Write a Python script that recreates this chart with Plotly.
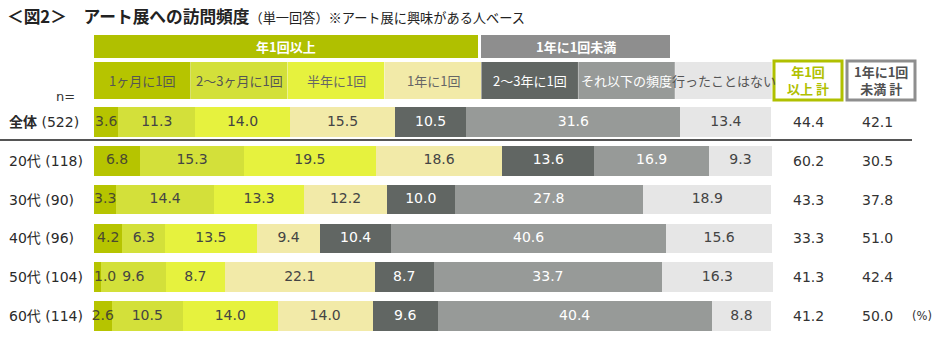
import numpy as np
import plotly.graph_objects as go

# ---------------- data ----------------
rows = ["全体", "20代", "30代", "40代", "50代", "60代"]
row_n = ["(522)", "(118)", "(90)", "(96)", "(104)", "(114)"]
categories = ["1ヶ月に1回", "2～3ヶ月に1回", "半年に1回", "1年に1回",
              "2～3年に1回", "それ以下の頻度", "行ったことはない"]
v_month = [3.6, 6.8, 3.3, 4.2, 1.0, 2.6]
v_2_3month = [11.3, 15.3, 14.4, 6.3, 9.6, 10.5]
v_halfyear = [14.0, 19.5, 13.3, 13.5, 8.7, 14.0]
v_year = [15.5, 18.6, 12.2, 9.4, 22.1, 14.0]
v_2_3year = [10.5, 13.6, 10.0, 10.4, 8.7, 9.6]
v_less = [31.6, 16.9, 27.8, 40.6, 33.7, 40.4]
v_never = [13.4, 9.3, 18.9, 15.6, 16.3, 8.8]
series = [v_month, v_2_3month, v_halfyear, v_year, v_2_3year, v_less, v_never]
total_over = [44.4, 60.2, 43.3, 33.3, 41.3, 41.2]
total_under = [42.1, 30.5, 37.8, 51.0, 42.4, 50.0]
group_labels = ["年1回以上", "1年に1回未満"]
total_headers = ["年1回<br>以上 計", "1年に1回<br>未満 計"]

# ---------------- style ----------------
W, H = 934, 339
colors = ["#b6c400", "#d3e03a", "#e6f23e", "#f2eaa8", "#616663", "#979a98", "#e6e6e6"]
text_colors = ["#4a4a30", "#444444", "#444444", "#444444", "#ffffff", "#ffffff", "#444444"]
head_text_colors = ["#555555", "#555555", "#666666", "#666666", "#ffffff", "#ffffff", "#555555"]
GREEN = "#b0c000"
GRAYB = "#8e8e8e"
NUM = "DejaVu Sans, Noto Sans CJK JP"
JP = "Noto Sans CJK JP, DejaVu Sans"

X0, X100 = 94, 772
scale = (X100 - X0) / 100.0
xr = [-X0 / scale, (W - X0) / scale]
ROW0, STEP = 122, 38.8
yr = [(H - ROW0) / STEP, -ROW0 / STEP]


def px(xp):
    return xp / W


def py(yp):
    return 1 - yp / H


fig = go.Figure()
for i, vals in enumerate(series):
    fig.add_trace(go.Bar(
        y=rows, x=vals, orientation="h", name=categories[i],
        marker=dict(color=colors[i], line=dict(width=0)),
        width=0.76, hoverinfo="skip",
    ))

# value labels as text traces at segment centres (from the data)
arr = np.array(series)
starts = np.vstack([np.zeros(len(rows)), np.cumsum(arr, axis=0)[:-1]])
for i, vals in enumerate(series):
    xs, pos = [], []
    for j, v in enumerate(vals):
        if v < 2:
            xs.append(starts[i][j])
            pos.append("middle right")
        else:
            xs.append(starts[i][j] + v / 2)
            pos.append("middle center")
    fig.add_trace(go.Scatter(
        x=xs, y=rows, mode="text", text=[f"{v:.1f}" for v in vals],
        textposition=pos, textfont=dict(family=NUM, size=14, color=text_colors[i]),
        hoverinfo="skip", cliponaxis=False, showlegend=False,
    ))

shapes = []
annotations = []


def ann(x, y, text, font, xref="paper", yref="paper", xanchor="center", yanchor="middle"):
    annotations.append(dict(xref=xref, yref=yref, x=x, y=y, text=text, showarrow=False,
                            xanchor=xanchor, yanchor=yanchor, font=font))


# title
ann(px(5), py(16),
    "<b>＜図2＞　アート展への訪問頻度</b><span style='font-size:13.2px'>（単一回答）※アート展に興味がある人ベース</span>",
    dict(family=JP, size=16.7, color="#222222"), xanchor="left")

# group bands
bands = [(X0, 478, GREEN), (481, 670, GRAYB)]
for (a, b, c), lab in zip(bands, group_labels):
    shapes.append(dict(type="rect", xref="paper", yref="paper", x0=px(a), x1=px(b),
                       y0=py(58), y1=py(35), fillcolor=c, line=dict(width=0), layer="below"))
    ann(px((a + b) / 2), py(46.5), f"<b>{lab}</b>", dict(family=JP, size=13, color="#ffffff"))

# category header cells
cw = 100.0 / len(categories)
for i, cat in enumerate(categories):
    shapes.append(dict(type="rect", xref="x", yref="paper", x0=i * cw, x1=(i + 1) * cw - 0.05,
                       y0=py(99), y1=py(62), fillcolor=colors[i], line=dict(width=0), layer="below"))
    ann((i + 0.5) * cw, py(80.5), cat, dict(family=JP, size=13, color=head_text_colors[i]), xref="x")

# total header boxes
tboxes = [(774, 842, GREEN, GREEN), (847, 915, GRAYB, "#505050")]
for (a, b, c, tc), lab in zip(tboxes, total_headers):
    shapes.append(dict(type="rect", xref="paper", yref="paper", x0=px(a), x1=px(b),
                       y0=py(100), y1=py(61), fillcolor="rgba(0,0,0,0)", line=dict(width=3, color=c)))
    ann(px((a + b) / 2), py(80.5), f"<b>{lab}</b>", dict(family=JP, size=13, color=tc))

ann(px(65), py(96), "n=", dict(family=NUM, size=13, color="#333333"))

# row labels and totals
for i, r in enumerate(rows):
    lab = f"<b>{r}</b> {row_n[i]}" if i == 0 else f"{r} {row_n[i]}"
    ann(px(7), r, lab, dict(family=NUM, size=14, color="#2a2a2a"), yref="y", xanchor="left")
    ann(px(808), r, f"{total_over[i]:.1f}", dict(family=NUM, size=14, color="#333333"), yref="y")
    ann(px(877), r, f"{total_under[i]:.1f}", dict(family=NUM, size=14, color="#333333"), yref="y")
ann(px(910), rows[-1], "(%)", dict(family=NUM, size=11.5, color="#333333"), yref="y", xanchor="left")

# separator line
shapes.append(dict(type="line", xref="paper", yref="paper", x0=0, x1=px(912),
                   y0=py(140), y1=py(140), line=dict(color="#555555", width=2)))

fig.update_layout(
    width=W, height=H, margin=dict(l=0, r=0, t=0, b=0),
    barmode="stack", bargap=0, showlegend=False,
    plot_bgcolor="#ffffff", paper_bgcolor="#ffffff",
    xaxis=dict(range=xr, domain=[0, 1], visible=False, fixedrange=True),
    yaxis=dict(type="category", categoryorder="array", categoryarray=rows,
               range=yr, domain=[0, 1], visible=False, fixedrange=True),
    shapes=shapes, annotations=annotations, hovermode=False,
)

fig.write_html("out.html", config={"displayModeBar": False})
